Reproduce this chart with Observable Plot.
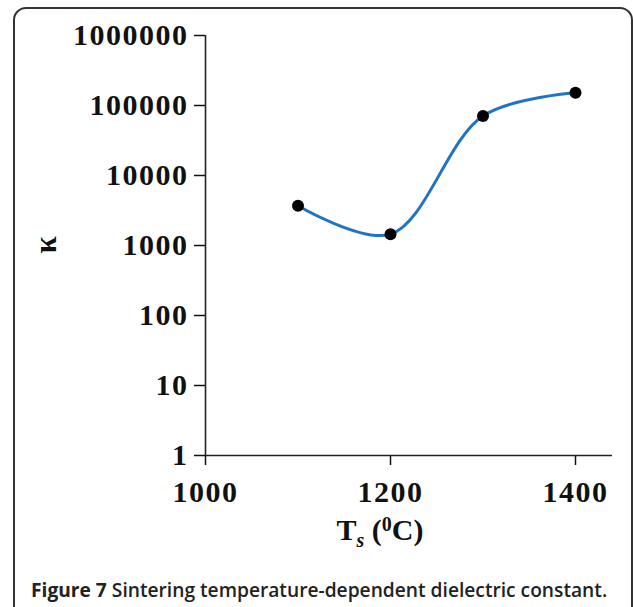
<!DOCTYPE html>
<html>
<head>
<meta charset="utf-8">
<script src="https://cdn.jsdelivr.net/npm/d3@7"></script>
<script src="https://cdn.jsdelivr.net/npm/@observablehq/plot@0.6"></script>
<style>
  html, body { margin: 0; padding: 0; background: #fff; width: 633px; height: 607px; overflow: hidden; }
  #chart { position: absolute; left: 0; top: 0; width: 633px; height: 560px; }
  #chart svg g[aria-label="x-axis tick"] path,
  #chart svg g[aria-label="y-axis tick"] path { stroke-width: 1.5px; }
  .serif { font-family: "Liberation Serif", "Times New Roman", serif; font-weight: bold; color: #111; }
  #ylabel { position: absolute; left: 26px; top: 225px; width: 40px; height: 40px; font-size: 31px; line-height: 40px; text-align: center; transform: rotate(-90deg); }
  #xlabel { position: absolute; left: 280px; width: 200px; top: 515px; font-size: 30px; line-height: 30px; text-align: center; white-space: nowrap; }
  #xlabel .sub { font-size: 20px; font-style: italic; position: relative; top: 7px; line-height: 0; }
  #xlabel .sup { font-size: 20px; position: relative; top: -9px; line-height: 0; }
  #caption { position: absolute; left: 31px; top: 580px; font-family: "Open Sans", sans-serif; font-size: 19.2px; line-height: 20px; color: #222; font-weight: 600; white-space: nowrap; }
  #caption b { font-weight: 700; }
  #frame { position: absolute; left: 13px; top: 7px; width: 616px; height: 640px; border: 2px solid #333; border-radius: 13px; pointer-events: none; }
</style>
</head>
<body>
<div id="chart"></div>
<div id="caption"><b>Figure 7</b> Sintering temperature-dependent dielectric constant.</div>
<div id="frame"></div>
<script>
// Data
const temperatures = [1100, 1200, 1300, 1400];        // Ts (°C)
const kappaValues  = [3700, 1450, 71000, 152000];     // dielectric constant κ
const xTickValues  = [1000, 1200, 1400];
const yTickValues  = [1, 10, 100, 1000, 10000, 100000, 1000000];

const data = temperatures.map((t, i) => ({t, k: kappaValues[i]}));

const plot = Plot.plot({
  width: 633,
  height: 545,
  marginLeft: 205,
  marginRight: 21,
  marginTop: 35,
  marginBottom: 90,
  style: {
    background: "transparent",
    fontFamily: "'Liberation Serif', 'Times New Roman', serif",
    fontSize: "30px",
    fontWeight: "bold",
    color: "#111",
    letterSpacing: "1.5px",
    overflow: "visible"
  },
  x: {
    domain: [1000, 1440],
    ticks: xTickValues,
    tickFormat: d => String(d),
    tickSize: 10,
    tickPadding: 15,
    label: null
  },
  y: {
    type: "log",
    domain: [1, 1000000],
    ticks: yTickValues,
    tickFormat: d => String(d),
    tickSize: 11,
    tickPadding: 6,
    label: null
  },
  marks: [
    Plot.ruleX([xTickValues[0]], {stroke: "#222", strokeWidth: 1.6}),
    Plot.ruleY([yTickValues[0]], {stroke: "#222", strokeWidth: 1.6}),
    Plot.line(data, {x: "t", y: "k", curve: "catmull-rom", stroke: "#1f74c6", strokeWidth: 3}),
    Plot.dot(data, {x: "t", y: "k", r: 6, fill: "#000", stroke: "none"})
  ]
});
const chart = document.getElementById("chart");
chart.appendChild(plot);

const yl = document.createElement("div");
yl.id = "ylabel"; yl.className = "serif"; yl.textContent = "κ";
chart.appendChild(yl);

const xl = document.createElement("div");
xl.id = "xlabel"; xl.className = "serif";
xl.innerHTML = 'T<span class="sub">s</span> (<span class="sup">0</span>C)';
chart.appendChild(xl);
</script>
</body>
</html>
